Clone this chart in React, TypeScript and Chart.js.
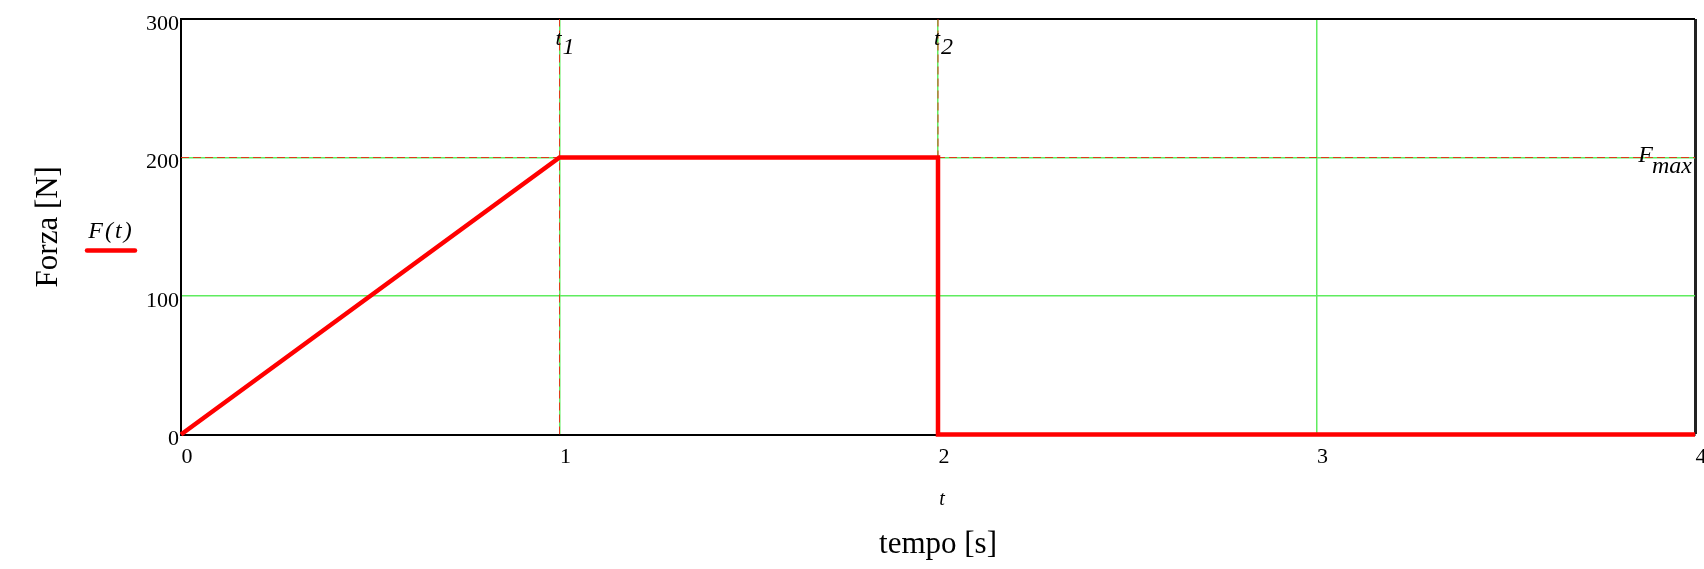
import { useEffect, useRef } from "react";
import { Chart, registerables } from "chart.js";

Chart.register(...registerables);

// ---- data ----
const timeS = [0, 1, 2, 2, 4];
const forceN = [0, 200, 200, 0, 0];
const xTickValues = [0, 1, 2, 3, 4];
const yTickValues = [0, 100, 200, 300];
const t1 = 1;
const t2 = 2;
const Fmax = 200;
const xRange = [0, 4];
const yRange = [0, 300];
const xTitle = "tempo [s]";
const yTitle = "Forza [N]";
const xVarName = "t";
const legendLabel = "F(t)";

const SERIF = "'Liberation Serif', 'Times New Roman', serif";
const GRID_GREEN = "#5fec5f";
const MARKER_RED = "rgba(235, 40, 20, 0.9)";

const annotations = {
  id: "mathcadAnnotations",
  afterDraw(chart: any) {
    const { ctx, chartArea, scales } = chart;
    const xs = scales.x;
    const ys = scales.y;
    ctx.save();
    ctx.fillStyle = "#000";
    ctx.textBaseline = "alphabetic";

    // marker labels t1, t2
    const markerLabel = (val: number, sub: string) => {
      const px = xs.getPixelForValue(val);
      ctx.font = `italic 22px ${SERIF}`;
      ctx.textAlign = "center";
      ctx.fillText("t", px - 1, chartArea.top + 26);
      ctx.font = `italic 24px ${SERIF}`;
      ctx.textAlign = "left";
      ctx.fillText(sub, px + 3, chartArea.top + 35);
    };
    markerLabel(t1, "1");
    markerLabel(t2, "2");

    // Fmax label
    const py = ys.getPixelForValue(Fmax);
    ctx.font = `italic 24px ${SERIF}`;
    ctx.textAlign = "right";
    const maxRight = chartArea.right - 3;
    ctx.fillText("max", maxRight, py + 15);
    const wMax = ctx.measureText("max").width;
    ctx.fillText("F", maxRight - wMax + 1, py + 4);

    // x variable name under axis
    ctx.font = `italic 20px ${SERIF}`;
    ctx.textAlign = "center";
    ctx.fillText(xVarName, (chartArea.left + chartArea.right) / 2 + 4, 505);

    // legend
    ctx.font = `italic 24px ${SERIF}`;
    ctx.textAlign = "center";
    try {
      (ctx as any).letterSpacing = "2px";
    } catch (e) {}
    ctx.fillText(legendLabel, 111, 238);
    try {
      (ctx as any).letterSpacing = "0px";
    } catch (e) {}
    ctx.strokeStyle = "#ff0000";
    ctx.lineWidth = 4.5;
    ctx.lineCap = "round";
    ctx.beginPath();
    ctx.moveTo(87, 250.5);
    ctx.lineTo(135, 250.5);
    ctx.stroke();
    ctx.restore();
  },
};

export default function App() {
  const canvasRef = useRef<HTMLCanvasElement | null>(null);

  useEffect(() => {
    document.body.style.margin = "0";
    const canvas = canvasRef.current;
    if (!canvas) return;

    const fPoints = timeS.map((x, i) => ({ x, y: forceN[i] }));
    const marker = (pts: { x: number; y: number }[]) => ({
      data: pts,
      showLine: true,
      borderColor: MARKER_RED,
      borderWidth: 1,
      borderDash: [8, 4],
      pointRadius: 0,
      fill: false,
    });

    const chart = new Chart(canvas, {
      type: "scatter",
      data: {
        datasets: [
          {
            label: legendLabel,
            data: fPoints,
            showLine: true,
            borderColor: "#ff0000",
            borderWidth: 4.5,
            pointRadius: 0,
            fill: false,
            clip: false,
          } as any,
          marker([{ x: t1, y: yRange[0] }, { x: t1, y: yRange[1] }]),
          marker([{ x: t2, y: yRange[0] }, { x: t2, y: yRange[1] }]),
          marker([{ x: xRange[0], y: Fmax }, { x: xRange[1], y: Fmax }]),
        ],
      },
      options: {
        responsive: false,
        animation: false,
        devicePixelRatio: 1,
        layout: { padding: { left: 0, top: 19, right: 9, bottom: 0 } },
        plugins: {
          legend: { display: false },
          tooltip: { enabled: false },
          title: { display: false },
        },
        scales: {
          x: {
            type: "linear",
            min: xRange[0],
            max: xRange[1],
            afterBuildTicks: (scale: any) => {
              scale.ticks = xTickValues.map((v) => ({ value: v }));
            },
            afterFit: (scale: any) => {
              scale.height = 134.5;
              scale.paddingLeft = 0;
              scale.paddingRight = 0;
            },
            ticks: {
              color: "#000",
              font: { family: SERIF, size: 22 },
              padding: 10,
              labelOffset: 6,
              maxRotation: 0,
              autoSkip: false,
            },
            grid: {
              drawTicks: false,
              color: (c: any) =>
                c.tick && c.tick.value === xRange[1]
                  ? "#222"
                  : c.tick && c.tick.value === xRange[0]
                  ? "rgba(0,0,0,0)"
                  : GRID_GREEN,
              lineWidth: (c: any) => (c.tick && c.tick.value === xRange[1] ? 3 : 1.5),
            },
            border: { display: true, color: "#000", width: 2 },
            title: {
              display: true,
              text: xTitle,
              color: "#000",
              font: { family: SERIF, size: 31 },
              padding: { top: 0, bottom: 6 },
            },
          },
          y: {
            type: "linear",
            min: yRange[0],
            max: yRange[1],
            afterBuildTicks: (scale: any) => {
              scale.ticks = yTickValues.map((v) => ({ value: v }));
            },
            afterFit: (scale: any) => {
              scale.width = 181;
              scale.paddingTop = 0;
              scale.paddingBottom = 0;
            },
            ticks: {
              color: "#000",
              font: { family: SERIF, size: 22 },
              padding: 2,
              labelOffset: 5,
              autoSkip: false,
            },
            grid: {
              drawTicks: false,
              color: (c: any) =>
                c.tick && c.tick.value === yRange[1]
                  ? "#000"
                  : c.tick && c.tick.value === yRange[0]
                  ? "rgba(0,0,0,0)"
                  : GRID_GREEN,
              lineWidth: (c: any) => (c.tick && c.tick.value === yRange[1] ? 2 : 1.5),
            },
            border: { display: true, color: "#000", width: 2 },
            title: {
              display: true,
              text: yTitle,
              color: "#000",
              font: { family: SERIF, size: 31 },
              padding: { top: 30, bottom: 0 },
            },
          },
        },
      } as any,
      plugins: [annotations],
    });

    return () => chart.destroy();
  }, []);

  return (
    <div style={{ position: "absolute", left: 0, top: 0, width: 1704, height: 569 }}>
      <canvas ref={canvasRef} width={1704} height={569} style={{ display: "block" }} />
    </div>
  );
}
